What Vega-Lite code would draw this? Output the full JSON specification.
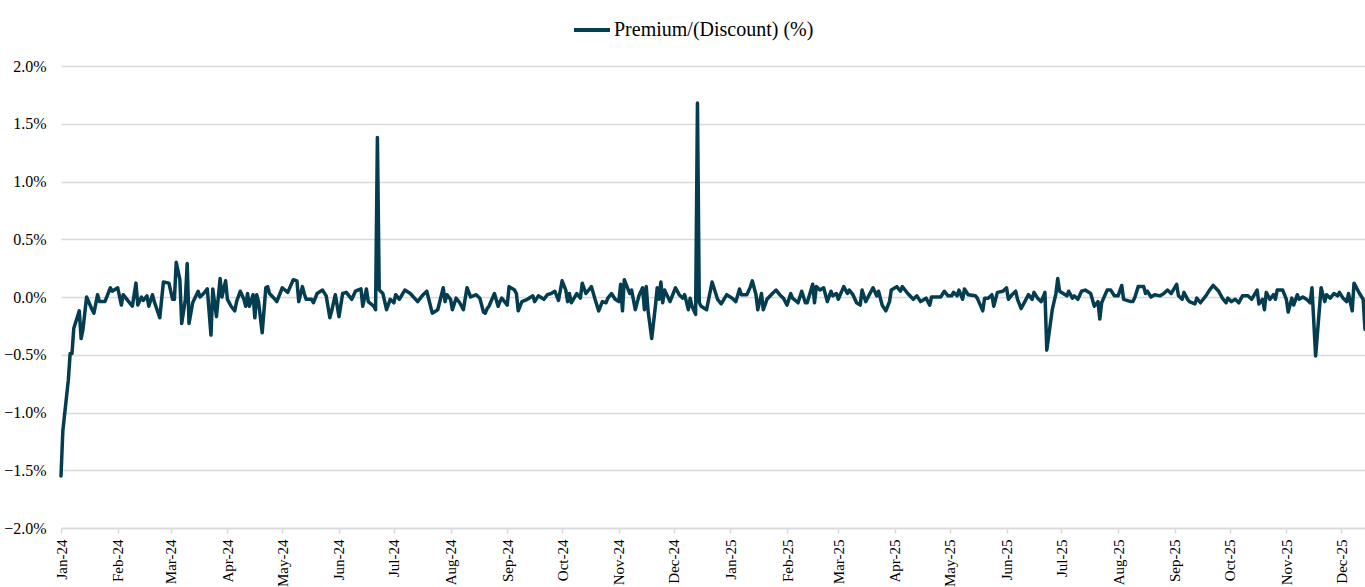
{
  "$schema": "https://vega.github.io/schema/vega-lite/v6.json",
  "width": 1304,
  "height": 462,
  "autosize": {"type": "none"},
  "padding": {"left": 61, "top": 66, "right": 0, "bottom": 59},
  "background": "white",
  "config": {"view": {"stroke": null}, "font": "Liberation Serif"},
  "data": {"values": [
    {"d":"2024-01-02","v":-1.55},{"d":"2024-01-03","v":-1.16},{"d":"2024-01-06","v":-0.72},{"d":"2024-01-07","v":-0.49},{"d":"2024-01-08","v":-0.49},{"d":"2024-01-09","v":-0.27},{"d":"2024-01-12","v":-0.12},{"d":"2024-01-13","v":-0.36},{"d":"2024-01-14","v":-0.28},{"d":"2024-01-16","v":0.0},{"d":"2024-01-19","v":-0.11},{"d":"2024-01-20","v":-0.14},{"d":"2024-01-22","v":0.02},{"d":"2024-01-23","v":-0.04},{"d":"2024-01-26","v":-0.04},{"d":"2024-01-29","v":0.08},{"d":"2024-01-30","v":0.05},
    {"d":"2024-02-02","v":0.08},{"d":"2024-02-04","v":-0.07},{"d":"2024-02-05","v":0.02},{"d":"2024-02-08","v":-0.04},{"d":"2024-02-10","v":-0.08},{"d":"2024-02-12","v":0.12},{"d":"2024-02-13","v":-0.07},{"d":"2024-02-15","v":0.0},{"d":"2024-02-16","v":-0.03},{"d":"2024-02-18","v":0.01},{"d":"2024-02-19","v":-0.08},{"d":"2024-02-21","v":0.02},{"d":"2024-02-22","v":-0.04},{"d":"2024-02-25","v":-0.18},{"d":"2024-02-27","v":0.13},
    {"d":"2024-03-01","v":0.12},{"d":"2024-03-03","v":-0.02},{"d":"2024-03-04","v":-0.02},{"d":"2024-03-05","v":0.30},{"d":"2024-03-07","v":0.15},{"d":"2024-03-08","v":-0.23},{"d":"2024-03-10","v":-0.02},{"d":"2024-03-11","v":0.29},{"d":"2024-03-12","v":-0.23},{"d":"2024-03-14","v":-0.05},{"d":"2024-03-17","v":0.05},{"d":"2024-03-18","v":0.0},{"d":"2024-03-20","v":0.03},{"d":"2024-03-22","v":0.07},{"d":"2024-03-24","v":-0.33},{"d":"2024-03-25","v":0.07},{"d":"2024-03-27","v":-0.17},{"d":"2024-03-29","v":0.16},{"d":"2024-03-30","v":0.0},
    {"d":"2024-04-01","v":0.14},{"d":"2024-04-02","v":-0.02},{"d":"2024-04-04","v":-0.08},{"d":"2024-04-06","v":-0.12},{"d":"2024-04-07","v":-0.04},{"d":"2024-04-09","v":0.05},{"d":"2024-04-11","v":-0.02},{"d":"2024-04-12","v":-0.08},{"d":"2024-04-13","v":0.03},{"d":"2024-04-14","v":-0.08},{"d":"2024-04-16","v":0.02},{"d":"2024-04-17","v":-0.18},{"d":"2024-04-18","v":0.02},{"d":"2024-04-19","v":-0.04},{"d":"2024-04-21","v":-0.31},{"d":"2024-04-23","v":0.08},{"d":"2024-04-24","v":0.09},{"d":"2024-04-25","v":0.03},{"d":"2024-04-28","v":-0.02},{"d":"2024-04-29","v":-0.04},
    {"d":"2024-05-02","v":0.08},{"d":"2024-05-05","v":0.04},{"d":"2024-05-08","v":0.15},{"d":"2024-05-10","v":0.14},{"d":"2024-05-11","v":-0.04},{"d":"2024-05-13","v":0.09},{"d":"2024-05-14","v":0.03},{"d":"2024-05-15","v":-0.02},{"d":"2024-05-18","v":-0.02},{"d":"2024-05-19","v":-0.05},{"d":"2024-05-21","v":0.03},{"d":"2024-05-24","v":0.06},{"d":"2024-05-26","v":0.01},{"d":"2024-05-28","v":-0.18},{"d":"2024-05-29","v":-0.12},{"d":"2024-05-31","v":0.02},
    {"d":"2024-06-02","v":-0.17},{"d":"2024-06-04","v":0.03},{"d":"2024-06-06","v":0.04},{"d":"2024-06-09","v":-0.02},{"d":"2024-06-11","v":0.05},{"d":"2024-06-14","v":0.07},{"d":"2024-06-15","v":-0.08},{"d":"2024-06-17","v":0.07},{"d":"2024-06-18","v":-0.04},{"d":"2024-06-21","v":-0.08},{"d":"2024-06-22","v":-0.11},{"d":"2024-06-23","v":1.38},{"d":"2024-06-24","v":0.06},{"d":"2024-06-26","v":0.03},{"d":"2024-06-28","v":-0.11},{"d":"2024-06-30","v":-0.02},
    {"d":"2024-07-02","v":-0.05},{"d":"2024-07-03","v":0.02},{"d":"2024-07-05","v":-0.02},{"d":"2024-07-08","v":0.06},{"d":"2024-07-11","v":0.03},{"d":"2024-07-15","v":-0.04},{"d":"2024-07-18","v":0.02},{"d":"2024-07-20","v":0.05},{"d":"2024-07-23","v":-0.14},{"d":"2024-07-26","v":-0.11},{"d":"2024-07-29","v":0.08},{"d":"2024-07-30","v":-0.04},{"d":"2024-07-31","v":0.02},
    {"d":"2024-08-02","v":-0.02},{"d":"2024-08-03","v":-0.11},{"d":"2024-08-05","v":-0.01},{"d":"2024-08-07","v":-0.05},{"d":"2024-08-09","v":-0.11},{"d":"2024-08-11","v":0.08},{"d":"2024-08-13","v":0.0},{"d":"2024-08-16","v":0.02},{"d":"2024-08-18","v":-0.01},{"d":"2024-08-20","v":-0.13},{"d":"2024-08-21","v":-0.14},{"d":"2024-08-22","v":-0.10},{"d":"2024-08-23","v":-0.08},{"d":"2024-08-26","v":0.03},{"d":"2024-08-28","v":-0.08},{"d":"2024-08-29","v":-0.04},{"d":"2024-08-30","v":-0.01},
    {"d":"2024-09-02","v":-0.07},{"d":"2024-09-03","v":0.09},{"d":"2024-09-06","v":0.06},{"d":"2024-09-07","v":0.03},{"d":"2024-09-08","v":-0.12},{"d":"2024-09-10","v":-0.04},{"d":"2024-09-13","v":-0.02},{"d":"2024-09-16","v":0.01},{"d":"2024-09-17","v":-0.04},{"d":"2024-09-19","v":0.01},{"d":"2024-09-22","v":-0.02},{"d":"2024-09-24","v":0.02},{"d":"2024-09-26","v":0.03},{"d":"2024-09-28","v":0.05},{"d":"2024-09-30","v":-0.03},
    {"d":"2024-10-02","v":0.14},{"d":"2024-10-04","v":0.06},{"d":"2024-10-05","v":-0.04},{"d":"2024-10-06","v":0.03},{"d":"2024-10-07","v":-0.05},{"d":"2024-10-10","v":0.03},{"d":"2024-10-12","v":-0.01},{"d":"2024-10-13","v":0.12},{"d":"2024-10-15","v":0.03},{"d":"2024-10-16","v":0.05},{"d":"2024-10-18","v":0.09},{"d":"2024-10-20","v":-0.02},{"d":"2024-10-22","v":-0.12},{"d":"2024-10-24","v":-0.04},{"d":"2024-10-26","v":-0.05},{"d":"2024-10-27","v":-0.01},{"d":"2024-10-29","v":0.03},{"d":"2024-10-31","v":-0.02},
    {"d":"2024-11-02","v":-0.04},{"d":"2024-11-03","v":0.11},{"d":"2024-11-04","v":-0.12},{"d":"2024-11-05","v":0.15},{"d":"2024-11-08","v":0.03},{"d":"2024-11-09","v":0.06},{"d":"2024-11-11","v":-0.11},{"d":"2024-11-13","v":0.01},{"d":"2024-11-15","v":0.08},{"d":"2024-11-16","v":-0.11},{"d":"2024-11-17","v":0.09},{"d":"2024-11-18","v":-0.12},{"d":"2024-11-20","v":-0.36},{"d":"2024-11-22","v":-0.08},{"d":"2024-11-23","v":0.08},{"d":"2024-11-24","v":-0.02},{"d":"2024-11-25","v":0.13},{"d":"2024-11-26","v":-0.05},{"d":"2024-11-27","v":0.06},{"d":"2024-11-30","v":-0.04},
    {"d":"2024-12-03","v":0.08},{"d":"2024-12-05","v":0.02},{"d":"2024-12-07","v":-0.01},{"d":"2024-12-08","v":0.02},{"d":"2024-12-10","v":-0.11},{"d":"2024-12-11","v":-0.01},{"d":"2024-12-12","v":-0.08},{"d":"2024-12-14","v":-0.15},{"d":"2024-12-15","v":1.68},{"d":"2024-12-16","v":-0.05},{"d":"2024-12-17","v":-0.08},{"d":"2024-12-20","v":-0.11},{"d":"2024-12-23","v":0.13},{"d":"2024-12-26","v":-0.02},{"d":"2024-12-28","v":-0.06},{"d":"2024-12-31","v":0.02},
    {"d":"2025-01-03","v":-0.01},{"d":"2025-01-05","v":-0.04},{"d":"2025-01-07","v":0.07},{"d":"2025-01-08","v":0.02},{"d":"2025-01-11","v":0.02},{"d":"2025-01-13","v":0.09},{"d":"2025-01-14","v":0.14},{"d":"2025-01-16","v":0.02},{"d":"2025-01-17","v":-0.11},{"d":"2025-01-19","v":0.03},{"d":"2025-01-20","v":-0.11},{"d":"2025-01-22","v":-0.02},{"d":"2025-01-25","v":0.03},{"d":"2025-01-27","v":0.06},{"d":"2025-01-29","v":0.02},{"d":"2025-01-31","v":-0.01},
    {"d":"2025-02-02","v":-0.07},{"d":"2025-02-04","v":0.03},{"d":"2025-02-05","v":-0.01},{"d":"2025-02-08","v":-0.05},{"d":"2025-02-10","v":0.05},{"d":"2025-02-12","v":-0.05},{"d":"2025-02-13","v":-0.05},{"d":"2025-02-16","v":0.11},{"d":"2025-02-17","v":-0.05},{"d":"2025-02-18","v":0.09},{"d":"2025-02-20","v":0.06},{"d":"2025-02-22","v":0.08},{"d":"2025-02-24","v":-0.04},{"d":"2025-02-26","v":0.05},{"d":"2025-02-27","v":0.01},
    {"d":"2025-03-01","v":0.03},{"d":"2025-03-02","v":-0.02},{"d":"2025-03-05","v":0.09},{"d":"2025-03-07","v":0.03},{"d":"2025-03-08","v":0.06},{"d":"2025-03-10","v":0.02},{"d":"2025-03-12","v":-0.05},{"d":"2025-03-14","v":-0.07},{"d":"2025-03-15","v":0.06},{"d":"2025-03-17","v":-0.04},{"d":"2025-03-19","v":0.02},{"d":"2025-03-21","v":0.08},{"d":"2025-03-23","v":0.01},{"d":"2025-03-24","v":0.05},{"d":"2025-03-26","v":-0.07},{"d":"2025-03-28","v":-0.12},{"d":"2025-03-30","v":-0.04},{"d":"2025-03-31","v":0.06},
    {"d":"2025-04-03","v":0.09},{"d":"2025-04-05","v":0.05},{"d":"2025-04-06","v":0.09},{"d":"2025-04-09","v":0.03},{"d":"2025-04-12","v":-0.02},{"d":"2025-04-14","v":0.01},{"d":"2025-04-16","v":-0.04},{"d":"2025-04-19","v":-0.01},{"d":"2025-04-20","v":-0.04},{"d":"2025-04-21","v":-0.07},{"d":"2025-04-22","v":0.0},{"d":"2025-04-25","v":0.0},{"d":"2025-04-27","v":0.0},{"d":"2025-04-29","v":0.05},
    {"d":"2025-05-01","v":0.01},{"d":"2025-05-03","v":0.01},{"d":"2025-05-04","v":0.04},{"d":"2025-05-06","v":0.01},{"d":"2025-05-07","v":0.06},{"d":"2025-05-09","v":-0.02},{"d":"2025-05-10","v":0.07},{"d":"2025-05-12","v":0.02},{"d":"2025-05-16","v":0.01},{"d":"2025-05-17","v":-0.01},{"d":"2025-05-20","v":-0.12},{"d":"2025-05-21","v":-0.01},{"d":"2025-05-23","v":-0.01},{"d":"2025-05-25","v":0.02},{"d":"2025-05-26","v":-0.08},{"d":"2025-05-28","v":0.04},{"d":"2025-05-31","v":0.05},
    {"d":"2025-06-02","v":0.08},{"d":"2025-06-03","v":-0.02},{"d":"2025-06-05","v":0.02},{"d":"2025-06-07","v":0.05},{"d":"2025-06-08","v":-0.02},{"d":"2025-06-10","v":-0.10},{"d":"2025-06-12","v":-0.04},{"d":"2025-06-14","v":0.02},{"d":"2025-06-16","v":-0.02},{"d":"2025-06-17","v":0.04},{"d":"2025-06-19","v":-0.01},{"d":"2025-06-21","v":-0.04},{"d":"2025-06-23","v":0.04},{"d":"2025-06-24","v":-0.46},{"d":"2025-06-27","v":-0.11},{"d":"2025-06-29","v":0.03},{"d":"2025-06-30","v":0.16},
    {"d":"2025-07-01","v":0.05},{"d":"2025-07-03","v":0.03},{"d":"2025-07-05","v":0.01},{"d":"2025-07-06","v":0.05},{"d":"2025-07-08","v":-0.01},{"d":"2025-07-09","v":0.01},{"d":"2025-07-11","v":-0.02},{"d":"2025-07-13","v":0.05},{"d":"2025-07-15","v":0.06},{"d":"2025-07-18","v":0.03},{"d":"2025-07-20","v":-0.08},{"d":"2025-07-22","v":-0.04},{"d":"2025-07-23","v":-0.19},{"d":"2025-07-24","v":-0.05},{"d":"2025-07-27","v":0.06},{"d":"2025-07-29","v":0.06},{"d":"2025-07-31","v":0.01},
    {"d":"2025-08-02","v":0.01},{"d":"2025-08-04","v":0.10},{"d":"2025-08-05","v":-0.02},{"d":"2025-08-09","v":-0.04},{"d":"2025-08-10","v":-0.04},{"d":"2025-08-11","v":-0.01},{"d":"2025-08-13","v":0.09},{"d":"2025-08-16","v":0.09},{"d":"2025-08-17","v":0.03},{"d":"2025-08-18","v":0.05},{"d":"2025-08-20","v":0.0},{"d":"2025-08-22","v":0.02},{"d":"2025-08-25","v":0.01},{"d":"2025-08-27","v":0.03},{"d":"2025-08-29","v":0.06},{"d":"2025-08-31","v":0.03},
    {"d":"2025-09-03","v":0.11},{"d":"2025-09-04","v":0.01},{"d":"2025-09-06","v":-0.02},{"d":"2025-09-07","v":0.04},{"d":"2025-09-09","v":-0.02},{"d":"2025-09-10","v":-0.04},{"d":"2025-09-13","v":-0.06},{"d":"2025-09-14","v":-0.01},{"d":"2025-09-16","v":-0.05},{"d":"2025-09-19","v":0.01},{"d":"2025-09-21","v":0.06},{"d":"2025-09-23","v":0.10},{"d":"2025-09-26","v":0.05},{"d":"2025-09-28","v":-0.01},{"d":"2025-09-30","v":-0.05},
    {"d":"2025-10-01","v":-0.01},{"d":"2025-10-03","v":-0.04},{"d":"2025-10-05","v":-0.02},{"d":"2025-10-07","v":-0.05},{"d":"2025-10-09","v":0.01},{"d":"2025-10-12","v":0.01},{"d":"2025-10-14","v":-0.02},{"d":"2025-10-17","v":0.06},{"d":"2025-10-18","v":-0.06},{"d":"2025-10-20","v":-0.02},{"d":"2025-10-21","v":-0.11},{"d":"2025-10-22","v":0.04},{"d":"2025-10-24","v":-0.02},{"d":"2025-10-26","v":0.02},{"d":"2025-10-27","v":-0.02},{"d":"2025-10-28","v":0.06},{"d":"2025-10-31","v":0.06},
    {"d":"2025-11-01","v":0.02},{"d":"2025-11-02","v":-0.02},{"d":"2025-11-03","v":-0.13},{"d":"2025-11-05","v":-0.01},{"d":"2025-11-06","v":-0.07},{"d":"2025-11-08","v":0.02},{"d":"2025-11-09","v":-0.02},{"d":"2025-11-11","v":0.0},{"d":"2025-11-13","v":-0.02},{"d":"2025-11-15","v":-0.05},{"d":"2025-11-16","v":0.08},{"d":"2025-11-18","v":-0.51},{"d":"2025-11-21","v":0.08},{"d":"2025-11-23","v":-0.04},{"d":"2025-11-24","v":0.02},{"d":"2025-11-26","v":-0.01},{"d":"2025-11-28","v":0.03},{"d":"2025-11-30","v":0.01},
    {"d":"2025-12-01","v":0.04},{"d":"2025-12-03","v":-0.01},{"d":"2025-12-05","v":-0.04},{"d":"2025-12-06","v":0.03},{"d":"2025-12-08","v":-0.12},{"d":"2025-12-09","v":0.12},{"d":"2025-12-12","v":0.03},{"d":"2025-12-14","v":-0.02},{"d":"2025-12-15","v":-0.28}
  ]},
  "mark": {"type": "line", "strokeWidth": 3.5, "strokeJoin": "round", "strokeCap": "round"},
  "encoding": {
    "x": {
      "field": "d", "type": "temporal",
      "scale": {"type": "utc", "domain": [{"year":2024,"month":1,"date":2,"utc":true},{"year":2025,"month":12,"date":15,"utc":true}], "nice": false},
      "axis": {
        "title": null, "format": "%b-%y", "labelAngle": -90, "labelFontSize": 15, "labelColor": "#000000",
        "labelFont": "Liberation Serif", "grid": false, "domainColor": "#d9d9d9", "domainWidth": 1.5,
        "tickColor": "#d9d9d9", "tickSize": 5, "tickWidth": 1.5, "labelPadding": 6, "labelOverlap": false, "labelFlush": false,
        "values": [
          {"year":2024,"month":1,"date":2,"utc":true},{"year":2024,"month":2,"date":2,"utc":true},{"year":2024,"month":3,"date":2,"utc":true},{"year":2024,"month":4,"date":2,"utc":true},{"year":2024,"month":5,"date":2,"utc":true},{"year":2024,"month":6,"date":2,"utc":true},{"year":2024,"month":7,"date":2,"utc":true},{"year":2024,"month":8,"date":2,"utc":true},{"year":2024,"month":9,"date":2,"utc":true},{"year":2024,"month":10,"date":2,"utc":true},{"year":2024,"month":11,"date":2,"utc":true},{"year":2024,"month":12,"date":2,"utc":true},
          {"year":2025,"month":1,"date":2,"utc":true},{"year":2025,"month":2,"date":2,"utc":true},{"year":2025,"month":3,"date":2,"utc":true},{"year":2025,"month":4,"date":2,"utc":true},{"year":2025,"month":5,"date":2,"utc":true},{"year":2025,"month":6,"date":2,"utc":true},{"year":2025,"month":7,"date":2,"utc":true},{"year":2025,"month":8,"date":2,"utc":true},{"year":2025,"month":9,"date":2,"utc":true},{"year":2025,"month":10,"date":2,"utc":true},{"year":2025,"month":11,"date":2,"utc":true},{"year":2025,"month":12,"date":2,"utc":true}
        ]
      }
    },
    "y": {
      "field": "v", "type": "quantitative",
      "scale": {"domain": [-2, 2], "nice": false, "zero": false},
      "axis": {
        "title": null, "values": [-2, -1.5, -1, -0.5, 0, 0.5, 1, 1.5, 2],
        "labelExpr": "format(datum.value, '.1f') + '%'",
        "labelFontSize": 16, "labelColor": "#000000", "labelFont": "Liberation Serif",
        "domain": false, "ticks": false, "tickSize": 0, "labelPadding": 15,
        "gridColor": "#d9d9d9", "gridWidth": 1.5
      }
    },
    "color": {
      "datum": "Premium/(Discount) (%)",
      "scale": {"range": ["#043D4F"]},
      "legend": {
        "title": null, "orient": "none", "legendX": 511, "legendY": -56,
        "symbolType": "stroke", "symbolSize": 1296, "symbolStrokeWidth": 4, "labelLimit": 500,
        "labelFontSize": 20, "labelFont": "Liberation Serif", "labelColor": "#000000", "labelOffset": 2
      }
    }
  }
}
